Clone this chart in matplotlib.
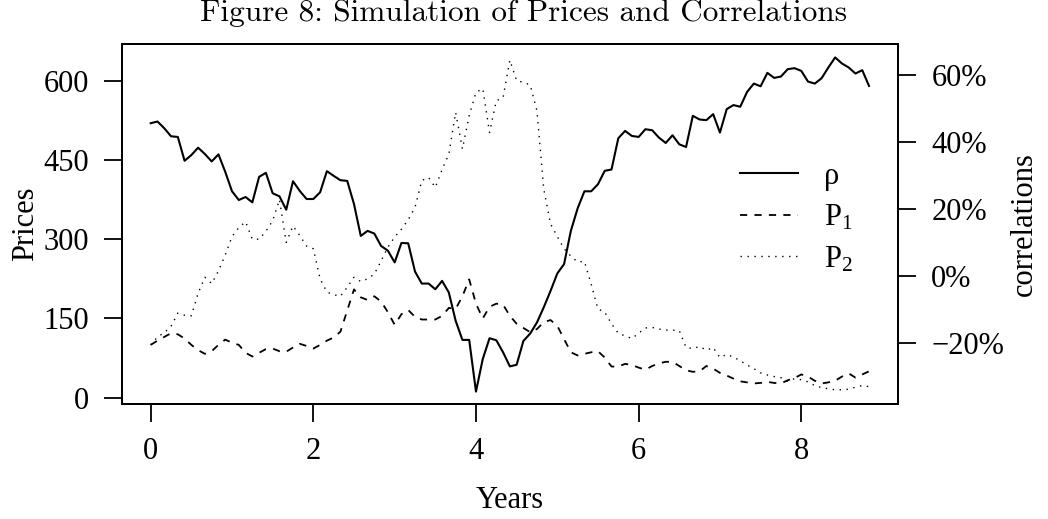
import numpy as np
import matplotlib
matplotlib.use("Agg")
import matplotlib.pyplot as plt

# monthly values (107 months)
rho = [45.5, 46.0, 44.0, 41.6, 41.4, 34.3, 36.0, 38.2, 36.3, 34.1,
       36.2, 31.0, 25.2, 22.6, 23.5, 21.9, 29.5, 30.7, 24.6, 23.7,
       19.7, 28.2, 25.3, 22.9, 22.9, 24.9, 31.2, 29.8, 28.5, 28.3,
       21.4, 11.9, 13.4, 12.6, 8.9, 7.5, 4.0, 9.8, 9.7, 1.3,
       -2.3, -2.3, -4.0, -1.5, -5.0, -13.4, -19.1, -19.1, -34.5, -24.8,
       -18.6, -19.2, -22.8, -27.0, -26.5, -19.4, -17.2, -13.9, -9.4, -4.5,
       0.7, 3.5, 13.4, 20.1, 25.2, 25.2, 27.3, 31.3, 31.7, 41.0,
       43.2, 41.7, 41.4, 43.7, 43.4, 41.2, 39.6, 41.9, 39.2, 38.4,
       47.7, 46.6, 46.4, 48.2, 42.7, 49.7, 50.9, 50.4, 54.8, 57.3,
       56.5, 60.5, 59.0, 59.4, 61.6, 61.9, 61.1, 57.9, 57.3, 58.9,
       62.1, 65.1, 63.3, 62.1, 60.3, 61.3, 56.6]

p1 = [100, 108, 115, 122, 120, 112, 100, 90, 83, 88,
      100, 110, 104, 100, 85, 78, 85, 92, 93, 88,
      87, 95, 102, 98, 93, 100, 108, 114, 125, 165,
      205, 190, 185, 192, 182, 162, 138, 158, 166, 153,
      148, 148, 148, 155, 170, 168, 192, 224, 178, 150,
      172, 178, 176, 155, 140, 132, 124, 130, 143, 147,
      136, 111, 86, 80, 83, 86, 88, 76, 59, 59,
      64, 62, 57, 53, 60, 65, 68, 68, 60, 52,
      49, 50, 60, 55, 47, 42, 36, 31, 29, 27,
      28, 30, 28, 27, 33, 37, 44, 40, 32, 27,
      29, 32, 40, 46, 38, 44, 50]

p2 = [100, 115, 123, 135, 160, 156, 155, 198, 228, 216,
      240, 270, 305, 322, 333, 300, 300, 315, 335, 375,
      294, 325, 307, 287, 282, 225, 200, 195, 192, 209,
      228, 220, 225, 234, 259, 285, 304, 319, 337, 360,
      411, 417, 398, 432, 461, 540, 471, 534, 578, 585,
      502, 562, 568, 639, 600, 597, 592, 543, 395, 329,
      305, 282, 268, 257, 258, 215, 168, 162, 140, 122,
      117, 112, 122, 132, 133, 130, 128, 128, 127, 95,
      93, 97, 90, 95, 76, 82, 77, 70, 62, 55,
      47, 43, 40, 38, 31, 36, 34, 30, 23, 19,
      17, 15, 15, 16, 20, 23, 21]

years = np.arange(len(rho)) / 12.0

price_ticks = [0, 150, 300, 450, 600]
corr_ticks = [-20, 0, 20, 40, 60]
year_ticks = [0, 2, 4, 6, 8]

plt.rcParams["font.family"] = ["Liberation Serif", "DejaVu Serif"]
plt.rcParams["mathtext.fontset"] = "custom"
plt.rcParams["mathtext.rm"] = "Liberation Serif"
plt.rcParams["mathtext.it"] = "Liberation Serif"
fs = 22

fig = plt.figure(figsize=(10.48, 5.19), dpi=100)
ax = fig.add_axes([0.1164, 0.2216, 0.7405, 0.6936])
ax2 = ax.twinx()

l1, = ax.plot(years, p1, color="black", lw=1.3, linestyle=(0, (4, 4)))
l2, = ax.plot(years, p2, color="black", lw=1.0, linestyle=(0, (1, 4)))
l0, = ax2.plot(years, rho, color="black", lw=1.5)

ax.set_xlim(-0.353, 9.19)
ax.set_ylim(-11.9, 669.5)
ax2.set_ylim(-38.2, 69.1)

ax.set_xticks(year_ticks)
ax.set_xticklabels([str(t) for t in year_ticks], fontsize=fs)
ax.set_yticks(price_ticks)
ax.set_yticklabels([str(t) for t in price_ticks], fontsize=fs)
ax2.set_yticks(corr_ticks)
ax2.set_yticklabels([("\u2212" if t < 0 else "") + str(abs(t)) + "%" for t in corr_ticks],
                    fontsize=fs)

for a in (ax, ax2):
    a.tick_params(length=13, width=1.3, pad=11, direction="out")
    for s in a.spines.values():
        s.set_linewidth(1.4)

ax.set_xlabel("Years", fontsize=fs, labelpad=14)
ax.set_ylabel("Prices", fontsize=fs, labelpad=2)
ax2.set_ylabel("correlations", fontsize=fs, labelpad=4)

leg = ax2.legend([l0, l1, l2], ["\u03c1", "P$_1$", "P$_2$"],
                 loc="upper left", bbox_to_anchor=(0.78, 0.707),
                 frameon=False, handlelength=1.9, handletextpad=0.88,
                 labelspacing=0.4, borderaxespad=0,
                 prop={"size": fs})

fig.text(0.5, 0.975, "Figure 8: Simulation of Prices and Correlations",
         ha="center", va="center", fontfamily="cmr10", fontsize=22.5)

fig.savefig("out.png", dpi=100)
